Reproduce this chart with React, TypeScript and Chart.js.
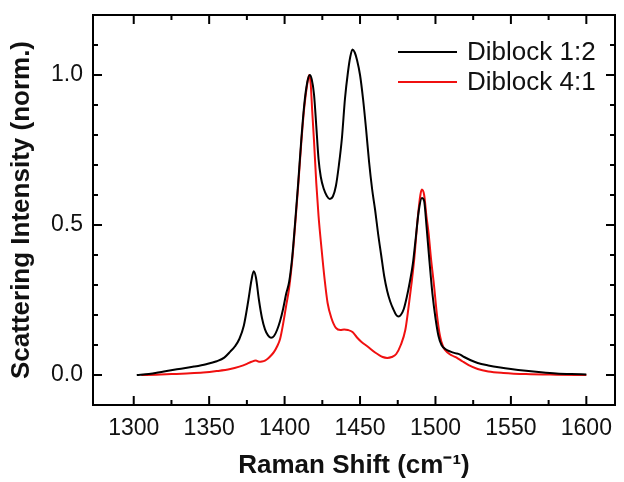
import React, { useEffect, useRef } from "react";
import { Chart, registerables } from "chart.js";

Chart.register(...registerables);

// Diblock 1:2 (black) — [Raman shift, normalized intensity]
const DIBLOCK_12: [number, number][] = [
  [1302, 0.0], [1310, 0.003], [1320, 0.012], [1330, 0.02], [1340, 0.028], [1348, 0.036],
  [1355, 0.046], [1360, 0.058], [1364, 0.078], [1367, 0.095], [1370, 0.12], [1373, 0.165],
  [1376, 0.25], [1378, 0.315], [1379.5, 0.346], [1381, 0.325], [1383, 0.25], [1385, 0.19],
  [1387, 0.152], [1389, 0.132], [1391, 0.124], [1393, 0.13], [1395, 0.15], [1397, 0.18],
  [1399, 0.22], [1401, 0.27], [1403, 0.31], [1405, 0.39], [1407, 0.51], [1409, 0.64],
  [1411, 0.78], [1413, 0.9], [1415, 0.975], [1416.7, 1.0], [1418, 0.985], [1419.5, 0.935],
  [1421, 0.83], [1422.5, 0.72], [1424, 0.66], [1426, 0.62], [1428, 0.597], [1430, 0.587],
  [1432, 0.595], [1434, 0.63], [1436, 0.7], [1438, 0.79], [1440, 0.92], [1442, 1.01],
  [1443.5, 1.06], [1445, 1.085], [1446.5, 1.075], [1448, 1.05], [1450, 1.0], [1452, 0.92],
  [1454, 0.82], [1456, 0.71], [1458, 0.62], [1460, 0.55], [1462, 0.47], [1464, 0.4],
  [1466, 0.33], [1468, 0.28], [1470, 0.245], [1472, 0.22], [1474, 0.2], [1475.5, 0.195],
  [1477, 0.2], [1479, 0.22], [1481, 0.26], [1483, 0.31], [1485, 0.37], [1487, 0.46],
  [1489, 0.55], [1491, 0.59], [1492.5, 0.58], [1494, 0.5], [1496, 0.38], [1498, 0.27],
  [1500, 0.19], [1502, 0.13], [1504, 0.1], [1507, 0.085], [1510, 0.078], [1513, 0.073],
  [1516, 0.069], [1519, 0.06], [1523, 0.05], [1528, 0.04], [1535, 0.032], [1543, 0.025],
  [1550, 0.02], [1560, 0.014], [1570, 0.009], [1580, 0.005], [1590, 0.003], [1600, 0.002],
];

// Diblock 4:1 (red)
const DIBLOCK_41: [number, number][] = [
  [1305, 0.0], [1315, 0.001], [1325, 0.003], [1335, 0.005], [1346, 0.008], [1355, 0.013],
  [1364, 0.02], [1370, 0.028], [1375, 0.037], [1378, 0.044], [1381, 0.048], [1383, 0.044],
  [1385, 0.045], [1387, 0.048], [1389, 0.055], [1391, 0.065], [1393, 0.077], [1395, 0.095],
  [1397, 0.12], [1399, 0.17], [1401, 0.23], [1403, 0.29], [1405, 0.38], [1407, 0.5],
  [1409, 0.63], [1411, 0.77], [1413, 0.89], [1415, 0.97], [1416.3, 1.0], [1417.3, 0.97],
  [1418.3, 0.88], [1419.5, 0.78], [1421, 0.64], [1422.5, 0.53], [1424.5, 0.42], [1426.5, 0.32],
  [1428.5, 0.24], [1431, 0.19], [1434, 0.157], [1437, 0.15], [1439.5, 0.152], [1442, 0.15],
  [1445, 0.143], [1448, 0.125], [1451, 0.11], [1455, 0.095], [1460, 0.075], [1465, 0.06],
  [1468, 0.057], [1471, 0.06], [1474, 0.07], [1477, 0.1], [1480, 0.15], [1482, 0.22],
  [1484, 0.3], [1486, 0.39], [1488, 0.51], [1490, 0.6], [1491, 0.618], [1492.5, 0.6],
  [1494, 0.53], [1495.5, 0.47], [1497, 0.39], [1499, 0.3], [1501, 0.2], [1503, 0.13],
  [1505, 0.095], [1508, 0.075], [1511, 0.065], [1514, 0.058], [1518, 0.045], [1522, 0.033],
  [1528, 0.02], [1535, 0.012], [1545, 0.007], [1560, 0.003], [1580, 0.001], [1600, 0.0],
];

const SERIES_LABELS = ["Diblock 1:2", "Diblock 4:1"];
const SERIES_COLORS = ["#000000", "#f01010"];

const X_MIN = 1273;
const X_MAX = 1619;
const Y_MIN = -0.1;
const Y_MAX = 1.2;
const X_TICKS = [1300, 1350, 1400, 1450, 1500, 1550, 1600];
const X_MINOR = [1325, 1375, 1425, 1475, 1525, 1575];
const Y_TICKS = [0, 0.5, 1.0];
const Y_MINOR = [0.1, 0.2, 0.3, 0.4, 0.6, 0.7, 0.8, 0.9, 1.1];

const X_TITLE = "Raman Shift (cm\u207B\u00B9)";
const Y_TITLE = "Scattering Intensity (norm.)";

const FONT = "'Liberation Sans', Arial, sans-serif";

const framePlugin = {
  id: "frame",
  afterDatasetsDraw(chart: any) {
    const { ctx, chartArea: a, scales } = chart;
    const xs = scales.x;
    const ys = scales.y;
    const MAJ = 9;
    const MIN = 5;
    ctx.save();
    ctx.strokeStyle = "#000";
    ctx.lineWidth = 2;
    ctx.beginPath();
    const xt = (v: number, len: number) => {
      const p = xs.getPixelForValue(v);
      ctx.moveTo(p, a.bottom);
      ctx.lineTo(p, a.bottom - len);
      ctx.moveTo(p, a.top);
      ctx.lineTo(p, a.top + len);
    };
    const yt = (v: number, len: number) => {
      const p = ys.getPixelForValue(v);
      ctx.moveTo(a.left, p);
      ctx.lineTo(a.left + len, p);
      ctx.moveTo(a.right, p);
      ctx.lineTo(a.right - len, p);
    };
    X_TICKS.forEach((v) => xt(v, MAJ));
    X_MINOR.forEach((v) => xt(v, MIN));
    Y_TICKS.forEach((v) => yt(v, MAJ));
    Y_MINOR.forEach((v) => yt(v, MIN));
    ctx.stroke();
    ctx.strokeRect(a.left, a.top, a.right - a.left, a.bottom - a.top);
    ctx.restore();
  },
};

const legendPlugin = {
  id: "innerLegend",
  afterDraw(chart: any) {
    const { ctx, chartArea: a } = chart;
    ctx.save();
    ctx.font = `26px ${FONT}`;
    ctx.textBaseline = "middle";
    ctx.textAlign = "left";
    chart.data.datasets.forEach((ds: any, i: number) => {
      const y = a.top + 37 + i * 30;
      const x0 = a.right - 217;
      ctx.strokeStyle = ds.borderColor;
      ctx.lineWidth = 2;
      ctx.beginPath();
      ctx.moveTo(x0, y);
      ctx.lineTo(x0 + 59, y);
      ctx.stroke();
      ctx.fillStyle = "#111";
      ctx.fillText(ds.label, x0 + 69, y + 1);
    });
    ctx.restore();
  },
};

export default function App() {
  const ref = useRef<HTMLCanvasElement | null>(null);

  useEffect(() => {
    if (!ref.current) return;
    const chart = new Chart(ref.current, {
      type: "line",
      data: {
        datasets: [
          {
            label: SERIES_LABELS[0],
            data: DIBLOCK_12.map(([x, y]) => ({ x, y })),
            borderColor: SERIES_COLORS[0],
            borderWidth: 2,
            pointRadius: 0,
            cubicInterpolationMode: "monotone",
            fill: false,
          },
          {
            label: SERIES_LABELS[1],
            data: DIBLOCK_41.map(([x, y]) => ({ x, y })),
            borderColor: SERIES_COLORS[1],
            borderWidth: 2,
            pointRadius: 0,
            cubicInterpolationMode: "monotone",
            fill: false,
          },
        ],
      },
      options: {
        animation: false,
        responsive: false,
        layout: { padding: { left: 0, top: 15, right: 9, bottom: 0 } },
        plugins: {
          legend: { display: false },
          tooltip: { enabled: false },
        },
        scales: {
          x: {
            type: "linear",
            min: X_MIN,
            max: X_MAX,
            grid: { display: false, drawTicks: false },
            border: { display: false },
            afterBuildTicks: (s: any) => {
              s.ticks = X_TICKS.map((v) => ({ value: v }));
            },
            afterFit: (s: any) => {
              s.height = 77;
              s.paddingLeft = 0;
              s.paddingRight = 0;
            },
            ticks: {
              padding: 10,
              color: "#111",
              font: { family: FONT, size: 23 },
              maxRotation: 0,
              callback: (v: any) => String(v),
            },
            title: {
              display: true,
              text: X_TITLE,
              color: "#111",
              font: { family: FONT, size: 26, weight: "bold" },
              padding: { top: 0, bottom: 1 },
            },
          },
          y: {
            type: "linear",
            min: Y_MIN,
            max: Y_MAX,
            grid: { display: false, drawTicks: false },
            border: { display: false },
            afterBuildTicks: (s: any) => {
              s.ticks = Y_TICKS.map((v) => ({ value: v }));
            },
            afterFit: (s: any) => {
              s.width = 93;
              s.paddingTop = 0;
              s.paddingBottom = 0;
            },
            ticks: {
              padding: 10,
              color: "#111",
              font: { family: FONT, size: 23 },
              callback: (v: any) => Number(v).toFixed(1),
            },
            title: {
              display: true,
              text: Y_TITLE,
              color: "#111",
              font: { family: FONT, size: 26, weight: "bold" },
              padding: { top: 6, bottom: 0 },
            },
          },
        },
      },
      plugins: [framePlugin, legendPlugin],
    });
    return () => chart.destroy();
  }, []);

  return (
    <div style={{ position: "fixed", left: 0, top: 0, width: 624, height: 482, background: "#fff" }}>
      <canvas ref={ref} width={624} height={482} style={{ display: "block" }} />
    </div>
  );
}
